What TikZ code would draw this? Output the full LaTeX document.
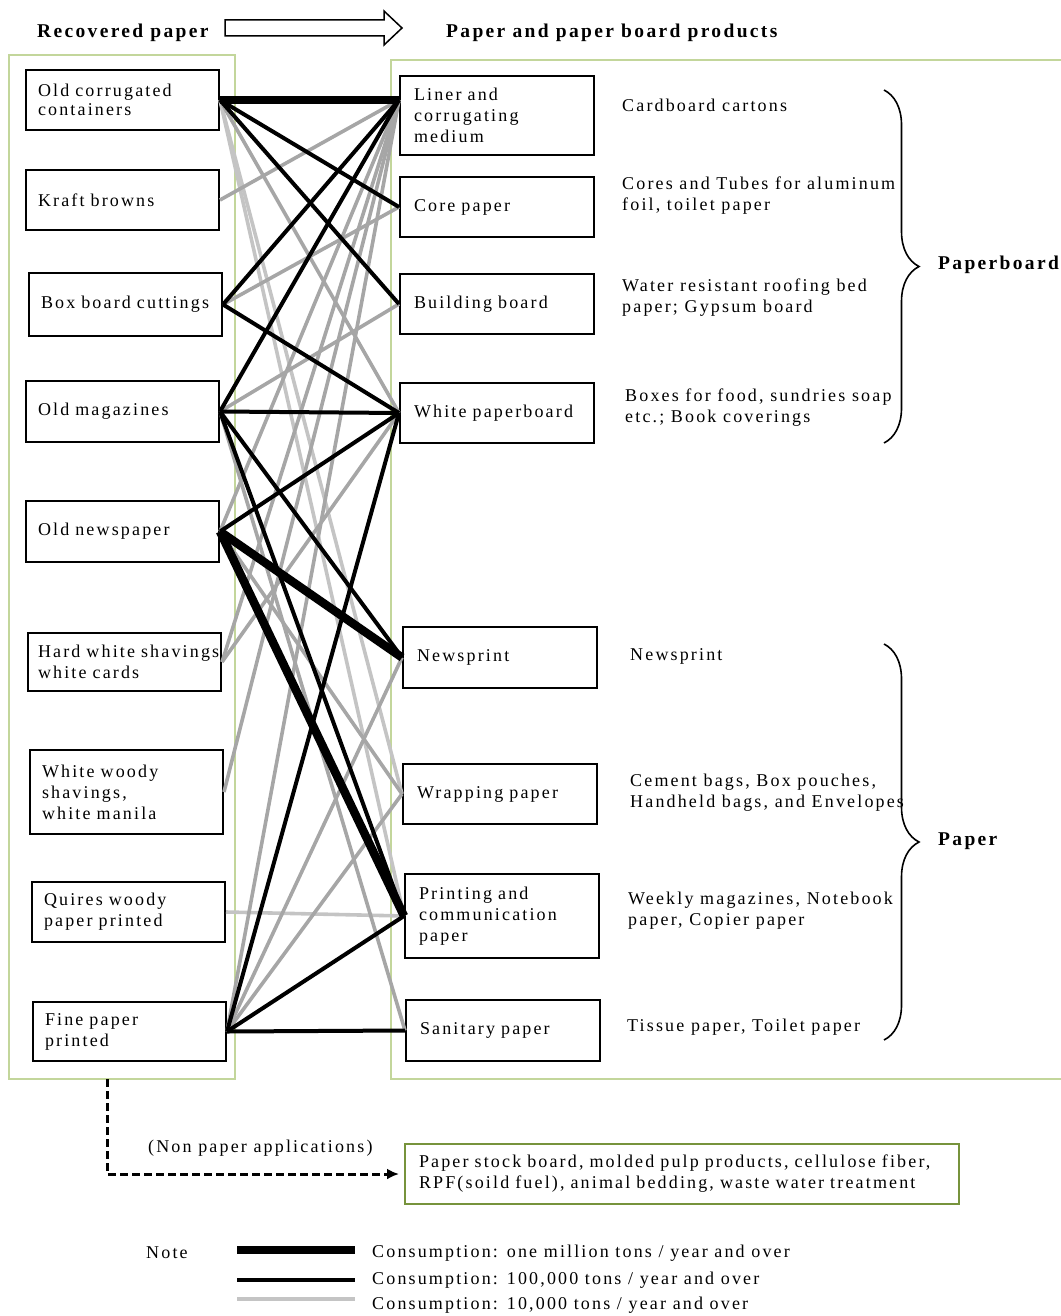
\documentclass[tikz,border=0pt]{standalone}
\usepackage{fontspec}
\setmainfont{Liberation Serif}[LetterSpace=12]
\usetikzlibrary{decorations.pathreplacing,arrows.meta}

\definecolor{frame}{RGB}{195,214,155}
\definecolor{darkframe}{RGB}{119,147,60}
\definecolor{lgray}{RGB}{196,196,196}
\definecolor{mgray}{RGB}{166,166,166}

\begin{document}
\begin{tikzpicture}[x=1pt,y=-1pt,
  font=\fontsize{18}{21}\selectfont,
  grade/.style={draw, line width=2pt, anchor=north west, inner xsep=12pt, inner ysep=0pt,
    text width=169pt, minimum height=60pt, align=left},
  prod/.style={grade, inner xsep=14pt, text width=166pt},
  use/.style={anchor=west, align=left, inner sep=0pt},
  title/.style={anchor=west, inner sep=0pt, font=\fontsize{19.5}{21}\selectfont\bfseries},
  zone/.style={draw=frame, line width=2pt},
  heavy/.style={line width=8.5pt},
  main/.style={line width=4pt},
  minor/.style={line width=3.6pt, draw=mgray},
  faint/.style={line width=3.6pt, draw=lgray}]

\useasboundingbox (0,0) rectangle (1060,1316);

% headings
\node[title] (hin) at (37,33) {Recovered paper};
\node[title] (hout) at (446,33) {Paper and paper board products};
\draw[line width=1.5pt] (225,20) -- (384,20) -- (384,11) -- (402,28) -- (384,45)
  -- (384,36) -- (225,36) -- cycle;

% frames
\draw[zone] (9,55) rectangle (235,1079);
\draw[zone] (391,60) rectangle (1066,1079);

% recovered paper grades
\node[grade, font=\fontsize{18}{19}\selectfont] (l1) at (25,69) {Old corrugated\\containers};
\node[grade] (l2) at (25,169) {Kraft browns};
\node[grade, minimum height=63pt] (l3) at (28,272) {Box board cuttings};
\node[grade, minimum height=61pt] (l4) at (25,380) {Old magazines};
\node[grade, minimum height=61pt] (l5) at (25,500) {Old newspaper};
\node[grade, minimum height=58pt, inner xsep=10pt, text width=173pt] (l6) at (27,632)
  {\mbox{Hard white shavings}\\white cards};
\node[grade, minimum height=84pt] (l7) at (29,749) {White woody\\shavings,\\white manila};
\node[grade] (l8) at (31,881) {Quires woody\\paper printed};
\node[grade, minimum height=59pt] (l9) at (32,1001) {Fine paper\\printed};

% products
\node[prod, minimum height=79pt] (r1) at (399,75) {Liner and\\corrugating\\medium};
\node[prod] (r2) at (399,176) {Core paper};
\node[prod] (r3) at (399,273) {Building board};
\node[prod] (r4) at (399,382) {White paperboard};
\node[prod, minimum height=61pt] (r5) at (402,626) {Newsprint};
\node[prod] (r6) at (402,763) {Wrapping paper};
\node[prod, minimum height=84pt] (r7) at (404,873) {Printing and\\communication\\paper};
\node[prod, minimum height=61pt] (r8) at (405,999) {Sanitary paper};
\coordinate (r1in) at (r1.west |- l1.east);

% end uses
\node[use] (u1) at (622,105) {Cardboard cartons};
\node[use] (u2) at (622,196) {Cores and Tubes for aluminum\\foil, toilet paper};
\node[use] (u3) at (622,298) {Water resistant roofing bed\\paper; Gypsum board};
\node[use] (u4) at (625,408) {Boxes for food, sundries soap\\etc.; Book coverings};
\node[use] (u5) at (630,656) {Newsprint};
\node[use] (u6) at (630,793) {Cement bags, Box pouches,\\Handheld bags, and Envelopes};
\node[use] (u7) at (628,911) {Weekly magazines, Notebook\\paper, Copier paper};
\node[use] (u8) at (627,1027) {Tissue paper, Toilet paper};

% braces
\draw[decorate, decoration={brace, amplitude=35pt}, line width=1.6pt] (884,90) -- (884,443);
\draw[decorate, decoration={brace, amplitude=35pt}, line width=1.6pt] (884,644) -- (884,1040);
\node[title] (board) at (938,265) {Paperboard};
\node[title] (paper) at (938,841) {Paper};

% 10,000 t links
\draw[faint] (l1.east) -- (r6.west);
\draw[faint] (l1.east) -- (r7.west);
\draw[faint] (l8.east) -- (r7.west);
\draw[minor] (l2.east) -- (r1in);
\draw[minor] (l1.east) -- (r4.west);
\draw[minor] (l3.east) -- (r2.west);
\draw[minor] (l4.east) -- (r3.west);
\draw[minor] (l4.east) -- (r8.west);
\draw[minor] (l5.east) -- (r1in);
\draw[minor] (l5.east) -- (r6.west);
\draw[minor] (l6.east) -- (r1in);
\draw[minor] (l6.east) -- (r4.west);
\draw[minor] (l7.east) -- (r1in);
\draw[minor] (l9.east) -- (r1in);
\draw[minor] (l9.east) -- (r5.west);
\draw[minor] (l9.east) -- (r6.west);

% 100,000 t links
\draw[main] (l1.east) -- (r2.west);
\draw[main] (l1.east) -- (r3.west);
\draw[main] (l3.east) -- (r1in);
\draw[main] (l3.east) -- (r4.west);
\draw[main] (l4.east) -- (r1in);
\draw[main] (l4.east) -- (r4.west);
\draw[main] (l4.east) -- (r5.west);
\draw[main] (l4.east) -- (r7.west);
\draw[main] (l5.east) -- (r4.west);
\draw[main] (l9.east) -- (r4.west);
\draw[main] (l9.east) -- (r7.west);
\draw[main] (l9.east) -- (r8.west);

% one million t links
\draw[heavy] (l1.east) -- (r1in);
\draw[heavy] (l5.east) -- (r5.west);
\draw[heavy] (l5.east) -- (r7.west);

% non paper use
\node[draw=darkframe, line width=2pt, anchor=north west, align=left, inner xsep=14pt,
  text width=526pt, minimum height=60pt] (other) at (404,1143)
  {Paper stock board, molded pulp products, cellulose fiber,\\RPF(soild fuel), animal bedding, waste water treatment};
\node[use] (np) at (148,1148) {(Non paper applications)};
\coordinate (drop) at (107,1079);
\draw[line width=3pt, dash pattern=on 8pt off 4pt, -{Latex[length=12pt,width=11pt]}, shorten >=5pt]
  (drop) |- (other.west);

% legend
\node[use] (note) at (146,1253) {Note};
\node[use] (k1) at (372,1253) {Consumption: one million tons / year and over};
\node[use] (k2) at (372,1280) {Consumption: 100,000 tons / year and over};
\node[use] (k3) at (372,1305) {Consumption: 10,000 tons / year and over};
\draw[line width=8pt] ([xshift=-135pt,yshift=3pt]k1.west) -- ([xshift=-17pt,yshift=3pt]k1.west);
\draw[line width=4pt] ([xshift=-135pt]k2.west) -- ([xshift=-17pt]k2.west);
\draw[line width=4pt, draw=lgray] ([xshift=-135pt,yshift=6pt]k3.west) -- ([xshift=-17pt,yshift=6pt]k3.west);
\end{tikzpicture}
\end{document}
